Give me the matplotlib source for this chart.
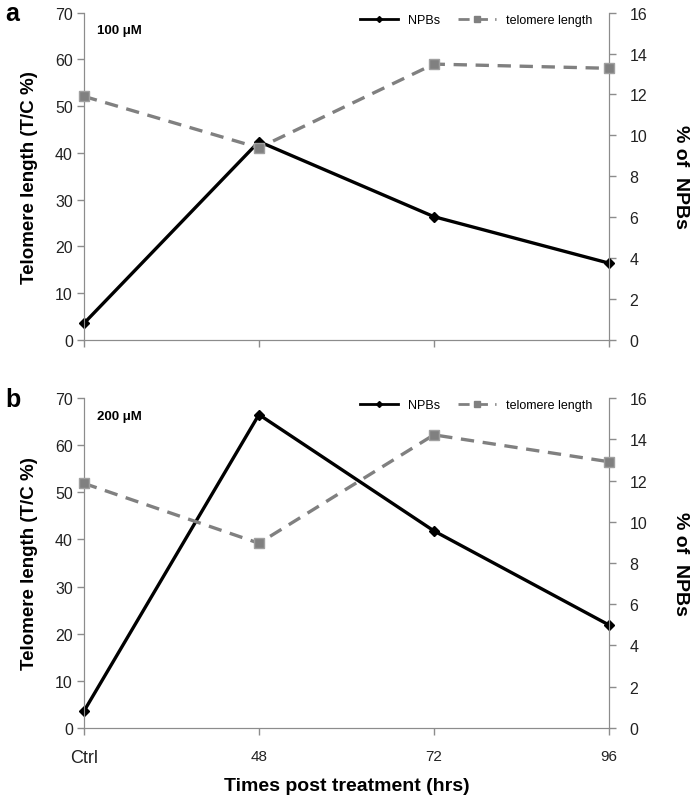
import matplotlib.pyplot as plt
from matplotlib.lines import Line2D

plt.rcParams['font.family'] = ['Liberation Sans', 'DejaVu Sans']

times = ['Ctrl', '48', '72', '96']
# telomere length, T/C % (left axis)
telo_100 = [52.1, 41.1, 59.0, 58.1]
telo_200 = [51.9, 39.2, 62.2, 56.5]
# % of NPBs (right axis)
npb_100 = [0.82, 9.7, 6.03, 3.76]
npb_200 = [0.82, 15.2, 9.56, 5.0]

panels = [('a', '100 μM', telo_100, npb_100), ('b', '200 μM', telo_200, npb_200)]
boxes = [[0.1216, 0.5753, 0.7594, 0.4077], [0.1216, 0.0922, 0.7594, 0.4108]]
axc = '#8c8c8c'

fig = plt.figure(figsize=(6.91, 8.03), dpi=100)
x = list(range(len(times)))

for i, (tag, conc, telo, npb) in enumerate(panels):
    ax = fig.add_axes(boxes[i])
    ax2 = ax.twinx()
    ax.set_zorder(ax2.get_zorder() + 1)
    ax.patch.set_visible(False)

    ax.plot(x, telo, color='#808080', ls=(0, (4, 2.6)), lw=2.4, marker='s', ms=7.5,
            mfc='#808080', mec='#a0a0a0', zorder=3, clip_on=False)
    ax2.plot(x, npb, color='black', lw=2.4, marker='D', ms=5, zorder=4, clip_on=False)

    ax.set_xlim(0, 3)
    ax.set_ylim(0, 70)
    ax.set_yticks(range(0, 71, 10))
    ax2.set_ylim(0, 16)
    ax2.set_yticks(range(0, 17, 2))
    ax.set_xticks(x)

    for a in (ax, ax2):
        for s in a.spines.values():
            s.set_color(axc)
        a.spines['top'].set_visible(False)
        a.tick_params(colors=axc, labelcolor='#222222', length=5, width=1)
    ax.tick_params(axis='y', labelsize=11.5, pad=3)
    ax2.tick_params(axis='y', labelsize=11.5, pad=10)

    if i == 1:
        ax.set_xticklabels(times, fontsize=11)
        ax.get_xticklabels()[0].set_fontsize(13)
        ax.tick_params(axis='x', pad=10)
        ax.set_xlabel('Times post treatment (hrs)', fontsize=14, fontweight='bold', labelpad=8)
    else:
        ax.set_xticklabels([])

    ax.set_ylabel('Telomere length (T/C %)', fontsize=13.5, fontweight='bold', labelpad=12)
    ax2.set_ylabel('% of  NPBs', fontsize=14, fontweight='bold', rotation=270, labelpad=30)

    ax.text(0.025, 0.965, conc, transform=ax.transAxes, fontsize=9.5, fontweight='bold', va='top')
    fig.text(0.008, boxes[i][1] + boxes[i][3] - 0.001, tag, fontsize=18, fontweight='bold', va='center')

    handles = [Line2D([], [], color='black', lw=2, marker='D', ms=3),
               Line2D([], [], color='#808080', ls=(0, (4, 2.6)), lw=2, marker='s', ms=5)]
    ax.legend(handles, ['NPBs', 'telomere length'], ncol=2, frameon=False, fontsize=9,
              loc='upper right', bbox_to_anchor=(0.99, 1.03), handlelength=3, columnspacing=1.5)

fig.savefig('out.png', dpi=100)
